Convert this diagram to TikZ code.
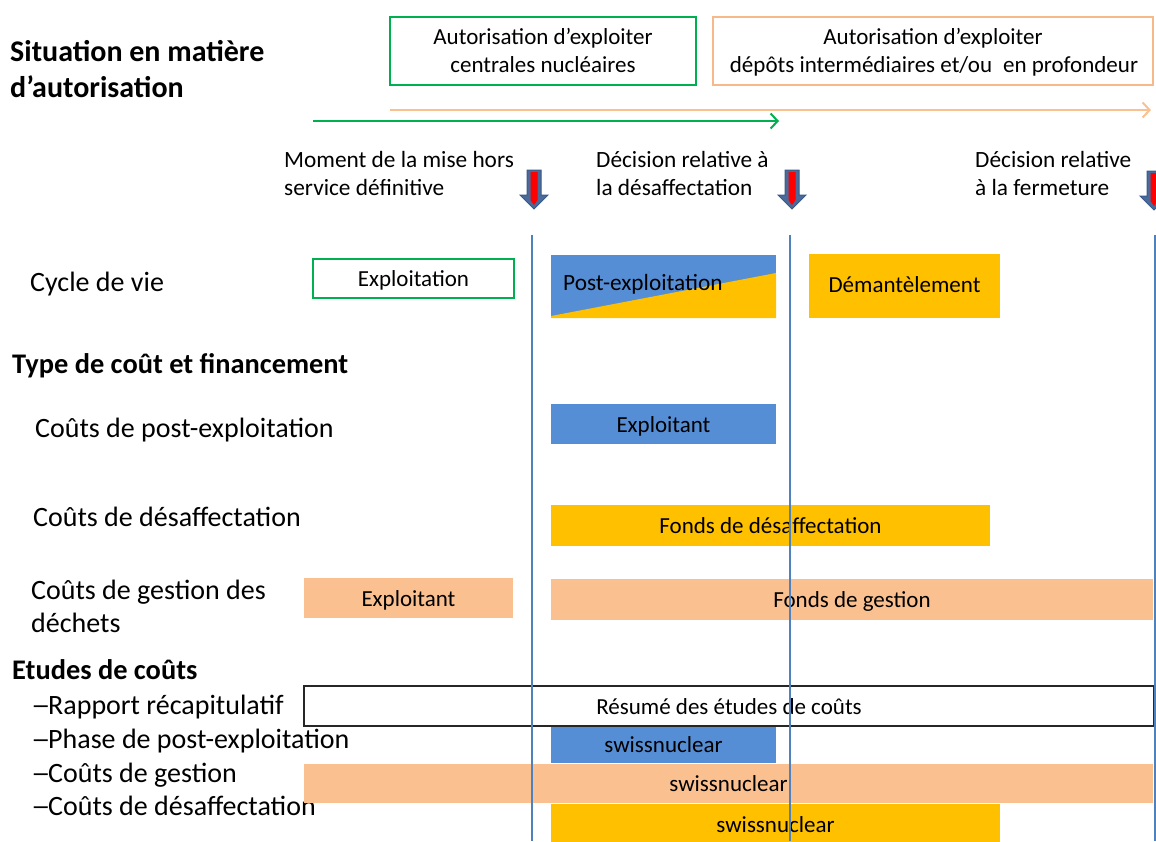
\documentclass[tikz,border=0pt]{standalone}
\usepackage{fontspec}
\setmainfont{Carlito}
\usetikzlibrary{arrows.meta}
\definecolor{cgreen}{HTML}{00B050}
\definecolor{corange}{HTML}{FAC090}
\definecolor{corangeedge}{HTML}{F8B98A}
\definecolor{cyellow}{HTML}{FFC000}
\definecolor{cblue}{HTML}{558ED5}
\definecolor{cline}{HTML}{4F81BD}
\definecolor{carrow}{HTML}{4A6A9C}
\definecolor{carrowedge}{HTML}{3A5A88}
\definecolor{cred}{HTML}{FF0000}
\begin{document}
\begin{tikzpicture}[x=1pt,y=-1pt,
  lbl/.style={anchor=base west, inner sep=0, font=\fontsize{28}{33}\selectfont},
  headtxt/.style={anchor=base west, inner sep=0, font=\fontsize{28.4}{33}\selectfont\bfseries},
  titletxt/.style={anchor=base west, inner sep=0, font=\fontsize{30}{37}\selectfont\bfseries},
  sm/.style={anchor=base west, inner sep=0, font=\fontsize{23.3}{28}\selectfont},
  smc/.style={anchor=base, inner sep=0, font=\fontsize{23}{28}\selectfont},
  bar/.style={rectangle, inner sep=0, outer sep=0, font=\fontsize{23}{28}\selectfont, text height=17pt, text depth=1pt},
  vline/.style={draw=cline, line width=2pt},
  blockarrow/.pic={
    \fill[carrow, draw=carrowedge, line width=1pt] (-7,0) -- (7,0) -- (7,25) -- (14,25) -- (0,39) -- (-14,25) -- (-7,25) -- cycle;
    \fill[cred] (-3.5,2) -- (3.5,2) -- (3.5,30) -- (0,35) -- (-3.5,30) -- cycle;
  }
]
\useasboundingbox (0,0) rectangle (1156,841);

% title
\node[titletxt] (t1) at (10,61) {Situation en matière};
\node[titletxt] (t2) at (10,97) {d’autorisation};

% authorisation boxes
\node[rectangle, draw=cgreen, line width=2pt, minimum width=306pt, minimum height=68pt, inner sep=0] (auth1) at (543,51) {};
\node[smc] (auth1a) at (543,44) {Autorisation d’exploiter};
\node[smc] (auth1b) at (543,72) {centrales nucléaires};
\node[rectangle, draw=corangeedge, line width=2pt, minimum width=440pt, minimum height=68pt, inner sep=0] (auth2) at (933,51) {};
\node[smc] (auth2a) at (933,44) {Autorisation d’exploiter};
\node[smc] (auth2b) at (934,72) {dépôts intermédiaires et/ou\hspace{0.25em} en profondeur};

% timeline arrows
\coordinate (oa1) at (390,110);
\coordinate (oa2) at (1151,110);
\draw[corange, line width=2pt, -{Straight Barb[length=7pt,width=15pt]}] (oa1) -- (oa2);
\coordinate (ga1) at (313,121);
\coordinate (ga2) at (779,121);
\draw[cgreen, line width=2pt, -{Straight Barb[length=7pt,width=15pt]}] (ga1) -- (ga2);

% milestone labels
\node[sm] (m1a) at (284,167) {Moment de la mise hors};
\node[sm] (m1b) at (284,195) {service définitive};
\node[sm] (m2a) at (596,167) {Décision relative à};
\node[sm] (m2b) at (596,195) {la désaffectation};
\node[sm] (m3a) at (975,167) {Décision relative};
\node[sm] (m3b) at (975,195) {à la fermeture};

% block arrows
\pic at (534,170) {blockarrow};
\pic at (792,170) {blockarrow};
\pic at (1154,171) {blockarrow};

% left labels
\node[lbl] (l1) at (30,291) {Cycle de vie};
\node[headtxt] (h1) at (12,373) {Type de coût et financement};
\node[lbl] (l2) at (35,437) {Coûts de post-exploitation};
\node[lbl] (l3) at (33,526) {Coûts de désaffectation};
\node[lbl] (l4a) at (31,599) {Coûts de gestion des};
\node[lbl] (l4b) at (31,632) {déchets};
\node[headtxt] (h2) at (12,679) {Etudes de coûts};
\node[lbl] (d1) at (31,714) {\scalebox{1.4}[1]{–}};
\node[lbl] (s1) at (48,714) {Rapport récapitulatif};
\node[lbl] (d2) at (31,748) {\scalebox{1.4}[1]{–}};
\node[lbl] (s2) at (48,748) {Phase de post-exploitation};
\node[lbl] (d3) at (31,782) {\scalebox{1.4}[1]{–}};
\node[lbl] (s3) at (48,782) {Coûts de gestion};
\node[lbl] (d4) at (31,815) {\scalebox{1.4}[1]{–}};
\node[lbl] (s4) at (48,815) {Coûts de désaffectation};

% life cycle
\node[bar, draw=cgreen, line width=2pt, minimum width=201pt, minimum height=39pt] (expl) at (413.5,278.5) {Exploitation};
\node[bar, fill=cblue, minimum width=225pt, minimum height=63pt] (postex) at (663.5,286.5) {};
\fill[cyellow] (551,316) -- (776,273) -- (776,318) -- (551,318) -- cycle;
\node[sm] (postext) at (563,290.5) {Post-exploitation};
\node[bar, fill=cyellow, minimum width=191pt, minimum height=64pt, text height=13pt] (dem) at (904.5,286) {Démantèlement};

% costs
\node[bar, fill=cblue, minimum width=225pt, minimum height=40pt] (exb) at (663.5,424) {Exploitant};
\node[bar, fill=cyellow, minimum width=439pt, minimum height=41pt] (fdd) at (770.5,525.5) {Fonds de désaffectation};
\node[bar, fill=corange, minimum width=209pt, minimum height=40pt] (exo) at (408.5,598) {Exploitant};
\node[bar, fill=corange, minimum width=602pt, minimum height=41pt] (fdg) at (852,599.5) {Fonds de gestion};

% cost studies
\node[bar, draw=black!85, line width=1.5pt, fill=white, minimum width=850pt, minimum height=40pt] (res) at (729,706) {Résumé des études de coûts};
\node[bar, fill=cblue, minimum width=225pt, minimum height=36pt] (sw1) at (663.5,744.5) {swissnuclear};
\node[bar, fill=corange, minimum width=849pt, minimum height=39pt] (sw2) at (728.5,783.5) {swissnuclear};
\node[bar, fill=cyellow, minimum width=449pt, minimum height=40pt] (sw3) at (775.5,824) {swissnuclear};

% vertical lines
\coordinate (v1t) at (532,235); \coordinate (v1b) at (532,841);
\coordinate (v2t) at (790,235); \coordinate (v2b) at (790,841);
\coordinate (v3t) at (1155,235); \coordinate (v3b) at (1155,841);
\draw[vline] (v1t) -- (v1b);
\draw[vline] (v2t) -- (v2b);
\draw[vline] (v3t) -- (v3b);
\end{tikzpicture}
\end{document}
